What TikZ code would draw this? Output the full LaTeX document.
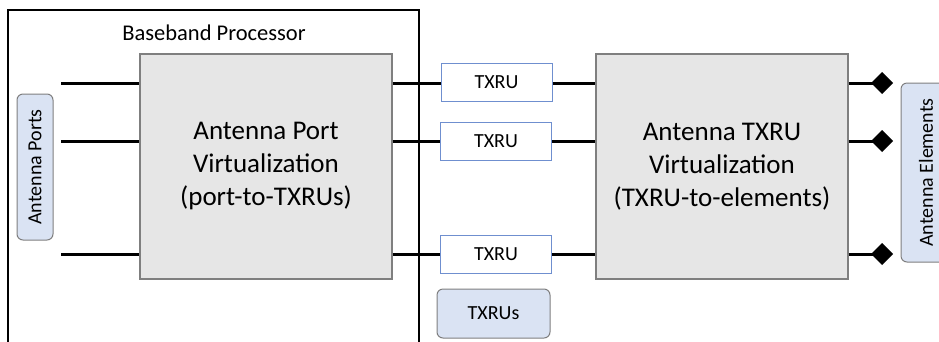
\documentclass[tikz,border=0pt]{standalone}
\usepackage{fontspec}
\setmainfont{Carlito}
\usetikzlibrary{shapes.geometric}
\definecolor{boxgray}{HTML}{E6E6E6}
\definecolor{boxedge}{HTML}{7F7F7F}
\definecolor{lblue}{HTML}{DAE3F3}
\definecolor{txedge}{HTML}{6F8FCF}
\tikzset{
  virtbox/.style={draw=boxedge, fill=boxgray, line width=1.2pt, minimum width=252pt, minimum height=225pt, inner sep=0pt, align=center, font=\fontsize{27}{33}\selectfont},
  txrubox/.style={draw=txedge, fill=white, line width=1pt, minimum width=111pt, minimum height=38pt, inner sep=0pt, font=\fontsize{20}{24}\selectfont},
  labelbox/.style={draw=boxedge, fill=lblue, line width=1pt, rounded corners=6pt, inner sep=0pt, font=\fontsize{20}{24}\selectfont},
  wire/.style={line width=3pt},
  elem/.style={diamond, fill=black, minimum width=22pt, minimum height=22pt, inner sep=0pt, outer sep=0pt},
}
\begin{document}
\begin{tikzpicture}[x=1pt,y=-1pt]
\useasboundingbox (0,0) rectangle (939,341);
% outer baseband frame
\draw[line width=2pt] (8,343) -- (8,10) -- (419,10) -- (419,343);
\node[font=\fontsize{22.5}{27}\selectfont] (bbp) at (214,33) {Baseband Processor};
% virtualization boxes
\node[virtbox] (apv) at (266,166.5) {Antenna Port\\Virtualization\\(port-to-TXRUs)};
\node[virtbox] (atv) at (722,166.5) {Antenna TXRU\\Virtualization\\(TXRU-to-elements)};
% TXRUs
\node[txrubox] (t1) at (496.5,82) {TXRU};
\node[txrubox] (t2) at (496,141.5) {TXRU};
\node[txrubox] (t3) at (496,254.5) {TXRU};
\node[labelbox, minimum width=113pt, minimum height=49pt] (txrus) at (493.5,313.5) {TXRUs};
% label boxes
\node[labelbox, minimum width=146pt, minimum height=36pt, rotate=90] (aports) at (35,167) {Antenna Ports};
\node[labelbox, minimum width=179pt, minimum height=50pt, rotate=90] (aelems) at (926,172.5) {Antenna Elements};
% input port lines
\coordinate (p1) at (61,83);
\coordinate (p2) at (61,141);
\coordinate (p3) at (61,254);
\draw[wire] (p1) -- (p1 -| apv.west);
\draw[wire] (p2) -- (p2 -| apv.west);
\draw[wire] (p3) -- (p3 -| apv.west);
% port virtualization to TXRUs
\draw[wire] (apv.east |- p1) -- (t1.west |- p1);
\draw[wire] (apv.east |- p2) -- (t2.west |- p2);
\draw[wire] (apv.east |- p3) -- (t3.west |- p3);
% TXRUs to TXRU virtualization
\draw[wire] (t1.east |- p1) -- (atv.west |- p1);
\draw[wire] (t2.east |- p2) -- (atv.west |- p2);
\draw[wire] (t3.east |- p3) -- (atv.west |- p3);
% antenna elements
\node[elem] (e1) at (882,83) {};
\node[elem] (e2) at (882,141) {};
\node[elem] (e3) at (882,254) {};
\draw[wire] (atv.east |- e1) -- (e1.center);
\draw[wire] (atv.east |- e2) -- (e2.center);
\draw[wire] (atv.east |- e3) -- (e3.center);
% redraw frame over wires at crossing
\draw[line width=2pt] (419,10) -- (419,343);
\end{tikzpicture}
\end{document}
